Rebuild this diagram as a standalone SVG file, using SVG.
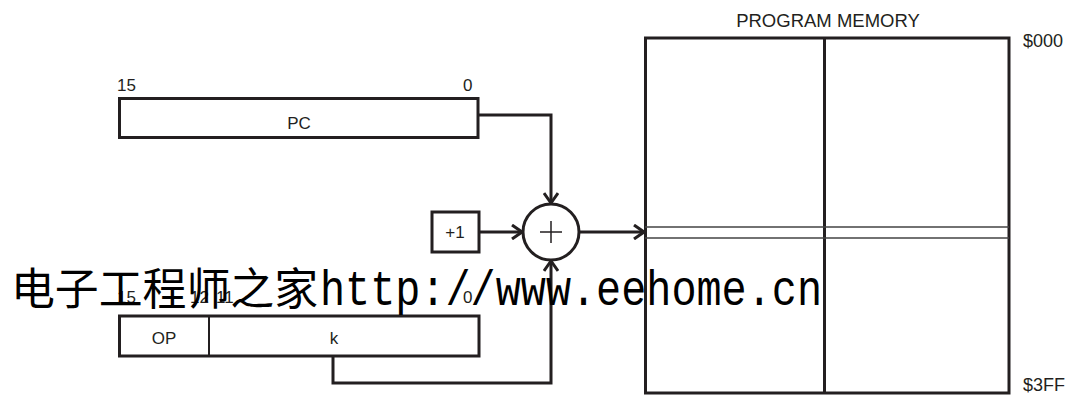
<svg xmlns="http://www.w3.org/2000/svg" width="1080" height="396" viewBox="0 0 1080 396">
<style>
.box{fill:#fff;stroke:#231f20;stroke-width:3}
.ln{fill:none;stroke:#231f20;stroke-width:3}
.thin{fill:none;stroke:#231f20;stroke-width:1.5}
.dbl{fill:none;stroke:#444;stroke-width:1.5}
.t{font-family:"Liberation Sans",Arial,sans-serif;font-size:17px;fill:#231f20}
.c{text-anchor:middle}
.wm{font-family:"Liberation Mono","Noto Sans CJK SC",monospace;fill:#000}
</style>
<defs>
<marker id="arr" viewBox="0 0 12 16" refX="11" refY="8" markerWidth="12" markerHeight="16" markerUnits="userSpaceOnUse" orient="auto">
<path d="M1,1 L11,8 L1,15" fill="none" stroke="#231f20" stroke-width="3"/>
</marker>
</defs>
<rect width="1080" height="396" fill="#fff"/>
<g id="connectors">
<path class="ln" d="M478,115 H551 V203" marker-end="url(#arr)"/>
<path class="ln" d="M479,232 H522" marker-end="url(#arr)"/>
<path class="ln" d="M579,232 H644" marker-end="url(#arr)"/>
<path class="ln" d="M333,356 V383 H551 V261" marker-end="url(#arr)"/>
</g>
<g id="pc">
<rect class="box" x="119.5" y="98.5" width="358.5" height="39"/>
<text class="t" x="117" y="91">15</text>
<text class="t" x="463" y="91">0</text>
<text class="t c" x="299" y="129">PC</text>
</g>
<g id="plus1">
<rect class="box" x="432" y="212" width="47" height="40"/>
<text class="t c" x="455" y="238">+1</text>
</g>
<g id="adder">
<circle class="box" cx="551" cy="232" r="28"/>
<path class="thin" d="M540,232 H562 M551,221 V243"/>
</g>
<g id="instr">
<rect class="box" x="119.5" y="316" width="359.5" height="40"/>
<line class="ln" x1="209" y1="316" x2="209" y2="356" style="stroke-width:2"/>
<text class="t c" x="164" y="344">OP</text>
<text class="t c" x="334" y="344">k</text>
<text class="t" x="117" y="303">15</text>
<text class="t" x="190" y="303">12</text>
<text class="t" x="216" y="303">11</text>
<text class="t" x="463" y="303">0</text>
</g>
<g id="memory">
<rect class="box" x="645.5" y="38" width="363.5" height="355"/>
<line class="ln" x1="824.5" y1="38" x2="824.5" y2="393"/>
<path class="dbl" d="M645,227 H1009 M645,238 H1009"/>
<text class="t c" x="828" y="27" style="font-size:18.5px">PROGRAM MEMORY</text>
<text class="t" x="1023" y="47" style="font-size:18px">$000</text>
<text class="t" x="1023" y="391" style="font-size:18px">$3FF</text>
</g>
<g id="watermark">
<text class="wm" x="11" y="305" style="font-size:44px" textLength="307" lengthAdjust="spacingAndGlyphs">电子工程师之家</text>
<text class="wm" x="320" y="305" style="font-size:50px" textLength="502" lengthAdjust="spacingAndGlyphs">http://www.eehome.cn</text>
</g>
</svg>
